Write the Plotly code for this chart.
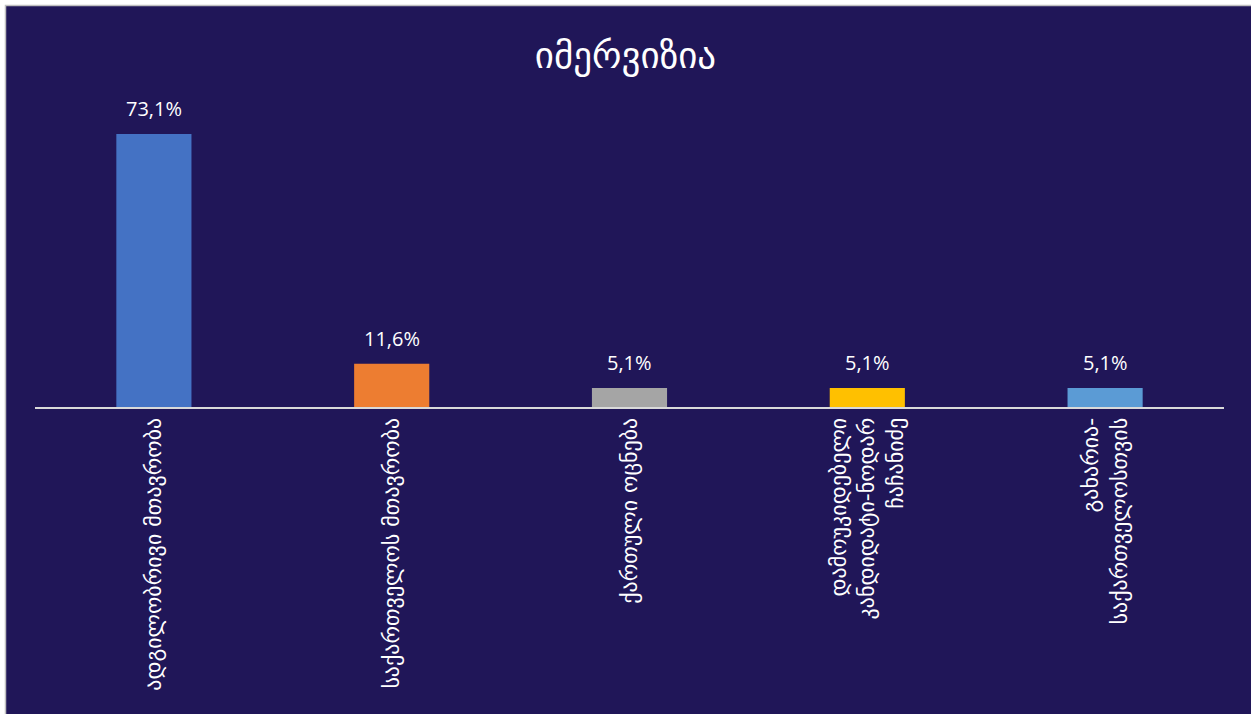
import plotly.graph_objects as go

categories = [
    "ადგილობრივი მთავრობა",
    "საქართველოს მთავრობა",
    "ქართული ოცნება",
    "დამოუკიდებელი<br>კანდიდატი-ნოდარ<br>ჩაჩანიძე",
    "გახარია-<br>საქართველოსთვის",
]
values = [73.1, 11.6, 5.1, 5.1, 5.1]
labels = ["73,1%", "11,6%", "5,1%", "5,1%", "5,1%"]
colors = ["#4472C4", "#ED7D31", "#A5A5A5", "#FFC000", "#5B9BD5"]

W, H = 1251, 714
L, R, T, B = 35, 27, 90, 307
pw, ph = W - L - R, H - T - B

def px(x):
    return (x - L) / pw

def py(y):
    return (H - B - y) / ph

fig = go.Figure(go.Bar(
    x=categories, y=values, marker_color=colors, width=0.316,
    marker_line_width=0, hoverinfo="skip",
))

for c, v, t in zip(categories, values, labels):
    fig.add_annotation(x=c, y=v, text=t, showarrow=False, yanchor="middle",
                       yshift=25, font=dict(color="white", size=20, family="Open Sans"))

fig.update_layout(
    width=W, height=H,
    margin=dict(l=L, r=R, t=T, b=B),
    paper_bgcolor="white", plot_bgcolor="#201658",
    showlegend=False,
    title=dict(text="იმერვიზია", x=0.5, xanchor="center", y=1 - 55 / H, yanchor="middle",
               font=dict(color="white", size=37, family="DejaVu Sans")),
    xaxis=dict(tickangle=-90, showline=True, linecolor="#D9D9D9", linewidth=2,
               tickfont=dict(color="white", size=22, family="DejaVu Sans"),
               showgrid=False, ticks=""),
    yaxis=dict(range=[0, ph / 3.735], visible=False, showgrid=False),
    bargap=0.684,
    shapes=[dict(type="rect", xref="paper", yref="paper", layer="below",
                 x0=px(5.5), x1=px(1260), y0=py(5.5), y1=py(720),
                 fillcolor="#201658", line=dict(color="#BFBFBF", width=1.5))],
)

fig.write_html("out.html", config={"displayModeBar": False},
               post_script="document.body.style.margin='0';document.body.style.padding='0';")
